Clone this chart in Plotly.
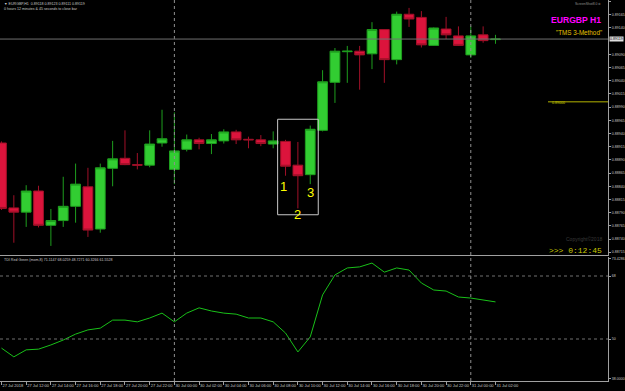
import plotly.graph_objects as go

# ---------------- data ----------------
bar_index = list(range(41))
opens = [0.88922, 0.88799, 0.88791, 0.88831, 0.88766, 0.88775, 0.88802, 0.88839, 0.88759, 0.88874,
         0.88893, 0.88881, 0.88880, 0.88922, 0.88872, 0.88910, 0.88928, 0.88921, 0.88926, 0.88943,
         0.88929, 0.88928, 0.88920, 0.88925, 0.88880, 0.88862, 0.88946, 0.89037, 0.89095, 0.89096,
         0.89091, 0.89137, 0.89080, 0.89166, 0.89160, 0.89107, 0.89138, 0.89125, 0.89089, 0.89127,
         0.89118]
highs = [0.88925, 0.88823, 0.88842, 0.88841, 0.88797, 0.88858, 0.88883, 0.88875, 0.88883, 0.88926,
         0.88946, 0.88903, 0.88946, 0.88985, 0.88980, 0.88938, 0.88932, 0.88939, 0.88948, 0.88947,
         0.88934, 0.88937, 0.88944, 0.88928, 0.88924, 0.88955, 0.89060, 0.89102, 0.89106, 0.89106,
         0.89151, 0.89138, 0.89171, 0.89178, 0.89172, 0.89141, 0.89161, 0.89143, 0.89143, 0.89143,
         0.89127]
lows = [0.88795, 0.88733, 0.88763, 0.88762, 0.88727, 0.88763, 0.88771, 0.88744, 0.88752, 0.88840,
        0.88880, 0.88872, 0.88876, 0.88915, 0.88844, 0.88906, 0.88910, 0.88901, 0.88921, 0.88920,
        0.88912, 0.88916, 0.88912, 0.88860, 0.88798, 0.88844, 0.88944, 0.88998, 0.89036, 0.89023,
        0.89062, 0.89036, 0.89071, 0.89142, 0.89103, 0.89106, 0.89119, 0.89106, 0.89083, 0.89112,
        0.89110]
closes = [0.88798, 0.88791, 0.88831, 0.88766, 0.88775, 0.88802, 0.88844, 0.88757, 0.88875, 0.88892,
          0.88881, 0.88880, 0.88920, 0.88930, 0.88907, 0.88928, 0.88921, 0.88928, 0.88943, 0.88928,
          0.88928, 0.88921, 0.88926, 0.88878, 0.88860, 0.88948, 0.89038, 0.89096, 0.89096, 0.89089,
          0.89137, 0.89080, 0.89166, 0.89157, 0.89108, 0.89140, 0.89127, 0.89107, 0.89125, 0.89116,
          0.89119]
tdi_green = [47.4, 44.9, 46.9, 47.1, 48.3, 49.7, 51.4, 52.6, 53.1, 55.4,
             55.4, 54.9, 56.0, 57.4, 54.9, 57.4, 58.9, 58.0, 57.4, 57.1,
             56.0, 56.0, 54.9, 51.7, 46.3, 50.6, 62.6, 68.3, 70.3, 70.6,
             71.7, 69.1, 70.3, 69.7, 66.0, 64.0, 63.7, 62.0, 61.7, 61.1,
             60.6]

time_tick_index = list(range(0, 41, 2))
time_tick_text = ["27 Jul 2018", "27 Jul 12:00", "27 Jul 14:00", "27 Jul 16:00", "27 Jul 18:00",
                  "27 Jul 20:00", "27 Jul 22:00", "30 Jul 00:00", "30 Jul 02:00", "30 Jul 04:00",
                  "30 Jul 06:00", "30 Jul 08:00", "30 Jul 10:00", "30 Jul 12:00", "30 Jul 14:00",
                  "30 Jul 16:00", "30 Jul 18:00", "30 Jul 20:00", "30 Jul 22:00", "31 Jul 00:00",
                  "31 Jul 02:00"]
price_ticks = [0.88715, 0.88740, 0.88765, 0.88790, 0.88815, 0.88840, 0.88865, 0.88890, 0.88915,
               0.88940, 0.88965, 0.88990, 0.89015, 0.89040, 0.89065, 0.89090, 0.89140, 0.89165,
               0.89190]
price_tick_text = ["%.5f" % v for v in price_ticks]
tdi_ticks = [72.9, 68, 50, 38.6]
tdi_tick_text = ["73.4286", "68", "50", "38.0000"]
day_separators = [14, 38]
bid_price = 0.89119
hline_price = 0.89000
pattern_box = dict(x0=22.36, x1=25.65, y0=0.88786, y1=0.88967)
pattern_labels = [("1", 22.82, 0.88839), ("2", 23.98, 0.88786), ("3", 25.0, 0.88828)]

# ---------------- figure ----------------
GRAY = "#a0a0a0"
TXT = "#c8c8c8"
fig = go.Figure()
fig.add_trace(go.Candlestick(
    x=bar_index, open=opens, high=highs, low=lows, close=closes,
    increasing=dict(line=dict(color="#1e9e1e", width=1), fillcolor="#32CD32"),
    decreasing=dict(line=dict(color="#a01028", width=1), fillcolor="#DC143C"),
    whiskerwidth=0, xaxis="x", yaxis="y", hoverinfo="skip", showlegend=False))
fig.add_trace(go.Scatter(
    x=bar_index, y=tdi_green, mode="lines", line=dict(color="#19c019", width=1),
    xaxis="x2", yaxis="y2", hoverinfo="skip", showlegend=False))

xr = [-0.12, 49.11]
main_bottom = 1 - 255.5 / 381
fig.update_layout(
    width=625, height=391, margin=dict(l=0, r=17, t=0, b=10),
    paper_bgcolor="black", plot_bgcolor="black",
    boxgap=0.21, boxgroupgap=0,
    font=dict(family="Liberation Sans", color=TXT, size=4),
    xaxis=dict(domain=[0, 1], range=xr, anchor="y", visible=False, rangeslider=dict(visible=False),
               matches="x2"),
    yaxis=dict(domain=[main_bottom, 1], range=[0.887088, 0.891930], side="right",
               tickvals=price_ticks, ticktext=price_tick_text, ticks="outside", ticklen=2,
               tickcolor=GRAY, tickfont=dict(size=3.6, color=TXT), showgrid=False, zeroline=False,
               showline=True, linecolor=GRAY, linewidth=1, fixedrange=True),
    xaxis2=dict(domain=[0, 1], range=xr, anchor="y2", tickvals=time_tick_index, ticktext=time_tick_text,
                ticks="outside", ticklen=3, tickcolor=GRAY, tickangle=0, ticklabelposition="outside right",
                tickfont=dict(size=4, color=TXT), showgrid=False, zeroline=False,
                showline=True, linecolor=GRAY, linewidth=1),
    yaxis2=dict(domain=[0, 124 / 381], range=[38.0, 73.43], side="right",
                tickvals=tdi_ticks, ticktext=tdi_tick_text, ticks="outside", ticklen=2,
                tickcolor=GRAY, tickfont=dict(size=3.6, color=TXT), showgrid=False, zeroline=False,
                showline=True, linecolor=GRAY, linewidth=1),
)

shapes = []
# panel separator
shapes.append(dict(type="line", xref="paper", yref="paper", x0=0, x1=1, y0=main_bottom, y1=main_bottom,
                   line=dict(color=GRAY, width=1)))
# day separators
for d in day_separators:
    shapes.append(dict(type="line", xref="x", yref="paper", x0=d, x1=d, y0=0, y1=1,
                       line=dict(color="#909090", width=1, dash="dot")))
# bid line
shapes.append(dict(type="line", xref="paper", yref="y", x0=0, x1=1, y0=bid_price, y1=bid_price,
                   line=dict(color="#707070", width=1)))
# 0.89000 line
shapes.append(dict(type="line", xref="paper", yref="y", x0=548 / 608, x1=1, y0=hline_price, y1=hline_price,
                   line=dict(color="#b4b400", width=1)))
# TDI levels
for lv in [68, 50]:
    shapes.append(dict(type="line", xref="paper", yref="y2", x0=0, x1=1, y0=lv, y1=lv,
                       line=dict(color="#707070", width=1, dash="dot")))
# pattern box
shapes.append(dict(type="rect", xref="x", yref="y", line=dict(color="#c8c8c8", width=1),
                   fillcolor="rgba(0,0,0,0)", **pattern_box))
fig.update_layout(shapes=shapes)

for t, xi, yv in pattern_labels:
    fig.add_annotation(x=xi, y=yv, xref="x", yref="y", text=t, showarrow=False,
                       font=dict(family="Liberation Sans", size=13, color="#ffff00"))
fig.add_annotation(x=1, y=bid_price, xref="paper", yref="y", text="%.5f" % bid_price, xanchor="left",
                   showarrow=False, bgcolor="#e0e0e0", borderpad=0, xshift=1,
                   font=dict(size=3.6, color="black"))


# small overlay texts (paper coordinates in pixels)
def ptext(x, y, text, size, color, family="Liberation Sans", anchor="left", bold=False):
    t = "<b>%s</b>" % text if bold else text
    fig.add_annotation(x=x / 608, y=1 - y / 381, xref="paper", yref="paper", text=t, showarrow=False,
                       xanchor=anchor, yanchor="middle", font=dict(size=size, color=color, family=family))


ptext(550, 103.5, "0.89000", 3.6, "#c8c800")
ptext(2, 4, "▼ EURGBP,H1  0.89118 0.89123 0.89111 0.89119", 3.6, TXT)
ptext(2, 9.5, "0 hours 12 minutes & 45 seconds to close bar", 3.6, TXT)
ptext(603, 4.5, "ScreenShot8.0 ⚙", 3.4, "#909090", anchor="right")
ptext(603, 20, "EURGBP H1", 8.6, "#ff00ff", anchor="right", bold=True)
ptext(604, 32.5, "\"TMS 3-Method\"", 6.3, "#e6c000", anchor="right")
ptext(604, 239, "Copyright©2018", 5, "#3a3a3a", anchor="right")
ptext(604, 250, ">>> 0:12:45", 8, "#c8c800", family="Liberation Mono", anchor="right")
ptext(2, 259.5, "TDI Red Green (mom,8) 71.1147 68.0259 48.7271 60.3266 61.5528", 3.6, TXT)

fig.write_html("out.html")
